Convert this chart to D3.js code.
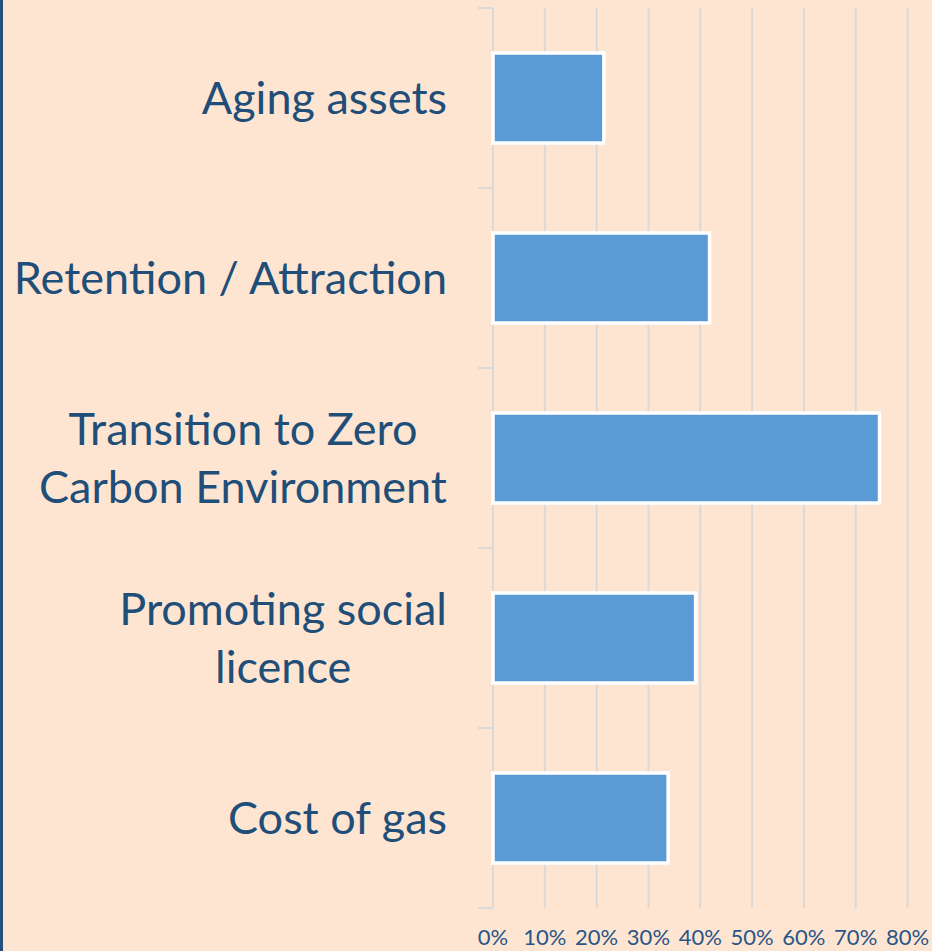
<!DOCTYPE html>
<html>
<head>
<meta charset="utf-8">
<script src="https://cdn.jsdelivr.net/npm/d3@7/dist/d3.min.js"></script>
<style>
  html, body { margin: 0; padding: 0; background: #FDE5D2; }
  svg { display: block; }
</style>
</head>
<body>
<script>
// chart data
var categories = [["Aging assets"], ["Retention / Attraction"], ["Transition to Zero", "Carbon Environment"], ["Promoting social", "licence"], ["Cost of gas"]];
var values = [21.4, 41.8, 74.6, 39.1, 33.8];
var tickValues = [0, 10, 20, 30, 40, 50, 60, 70, 80];

var W = 932, H = 951;
var margin = {top: 8, left: 493, right: 24, bottom: 43};

var svg = d3.select("body").append("svg")
    .attr("width", W)
    .attr("height", H);

svg.append("rect").attr("width", W).attr("height", H).attr("fill", "#FDE5D2");
// dark strip on the left edge
svg.append("rect").attr("x", 0).attr("y", 0).attr("width", 3).attr("height", H).attr("fill", "#24507F");

var x = d3.scaleLinear().domain([0, 80]).range([margin.left, 907.5]);
var y = d3.scaleBand().domain(d3.range(categories.length)).range([margin.top, H - margin.bottom]).paddingInner(0.5).paddingOuter(0.25);

var g = svg.append("g");

// vertical gridlines
g.selectAll(".grid").data(tickValues.slice(1)).enter().append("line")
    .attr("x1", function(d) { return x(d); }).attr("x2", function(d) { return x(d); })
    .attr("y1", margin.top).attr("y2", H - margin.bottom)
    .attr("stroke", "#D9D9D9").attr("stroke-width", 2);

// category axis line + ticks
var step = y.step();
g.append("line").attr("x1", x(0)).attr("x2", x(0))
    .attr("y1", margin.top).attr("y2", H - margin.bottom)
    .attr("stroke", "#D9D9D9").attr("stroke-width", 2);
g.selectAll(".ytick").data(d3.range(categories.length + 1)).enter().append("line")
    .attr("x1", x(0) - 15).attr("x2", x(0))
    .attr("y1", function(d) { return margin.top + d * step; })
    .attr("y2", function(d) { return margin.top + d * step; })
    .attr("stroke", "#D9D9D9").attr("stroke-width", 2);

// bars
g.selectAll(".bar").data(values).enter().append("rect")
    .attr("x", x(0))
    .attr("y", function(d, i) { return y(i); })
    .attr("width", function(d) { return x(d) - x(0); })
    .attr("height", y.bandwidth())
    .attr("fill", "#5B9BD5")
    .attr("stroke", "#FFFFFF")
    .attr("stroke-width", 3.5);

// category labels (multi-line blocks centered, block right aligned)
var labelRight = 447, lineH = 58;
categories.forEach(function(lines, i) {
    var cy = y(i) + y.bandwidth() / 2;
    var t = svg.append("text")
        .attr("font-family", "Lato, 'Open Sans', sans-serif")
        .attr("font-size", 45)
        .attr("fill", "#1F4E79")
        .attr("text-anchor", "middle");
    lines.forEach(function(s, k) {
        t.append("tspan").attr("x", 0)
            .attr("y", cy + (k - (lines.length - 1) / 2) * lineH)
            .attr("dy", "0.35em")
            .text(s);
    });
    var bw = t.node().getBBox().width;
    t.attr("transform", "translate(" + (labelRight - bw / 2) + ",0)");
});

// x tick labels
svg.selectAll(".xlab").data(tickValues).enter().append("text")
    .attr("x", function(d) { return x(d); })
    .attr("y", 937)
    .attr("dy", "0.35em")
    .attr("text-anchor", "middle")
    .attr("font-family", "Lato, 'Open Sans', sans-serif")
    .attr("font-size", 22)
    .attr("fill", "#2A5587")
    .text(function(d) { return d + "%"; });
</script>
</body>
</html>
